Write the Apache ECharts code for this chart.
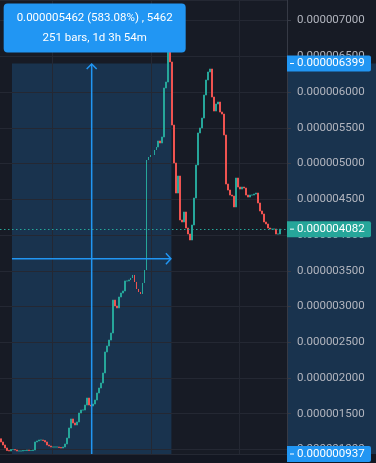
<!DOCTYPE html>
<html>
<head>
<meta charset="utf-8">
<script src="https://cdn.jsdelivr.net/npm/echarts@6/dist/echarts.min.js"></script>
<style>
  html, body { margin: 0; padding: 0; background: #171b25; }
  #chart { width: 376px; height: 463px; }
</style>
</head>
<body>
<div id="chart"></div>
<script>
// closing prices, in units of 0.000000001
const closes = [
  1105, 1063, 1021, 986, 979, 1000, 1000, 993, 979, 979, 979, 986, 986, 993, 986, 986, 993,
  1105, 1119, 1133, 1133, 1126, 1105, 1063, 1049, 1035, 1035, 1035, 1035, 1028, 1021, 1035,
  1077, 1161, 1301, 1427, 1371, 1343, 1385, 1510, 1552, 1552, 1622, 1720, 1622, 1608, 1636, 1692,
  1790, 1860, 1930, 2070, 2364, 2448, 2531, 2629,
  3090, 3007, 2980, 3133, 3189, 3217, 3357, 3357, 3371, 3399, 3441, 3343, 3245, 3203, 3175, 3329, 3510,
  5049, 5091, 5119, 5119, 5189, 5231, 5315, 5287, 5371, 6056, 6140, 6559, 6420, 5538, 5007,
  4587, 4825, 4210, 4182, 4322, 4098, 4014, 3930, 4140, 4517, 4979, 5427, 5497, 5636, 5958, 6168, 6280, 6322,
  5930, 5734, 5832, 5860, 5720, 5692, 5399, 4713, 4629, 4559, 4545, 4392, 4797, 4671, 4643, 4671, 4657,
  4559, 4531, 4559, 4559, 4573, 4587, 4448, 4336, 4294, 4182, 4154, 4098, 4084, 4084, 4084, 4014, 4014, 4082
]
const firstOpen = 1150
const lastPrice = 4082
const yMin = 937
const yMax = 7287
const yStep = 500
// bar indexes where the time grid lines fall
const timeGrid = [26, 76, 120]

// measuring tool: bar range and price range
const measure = { from: 6, to: 86, low: 937, high: 6399 }
const measureText = ['0.000005462 (583.08%) , 5462', '251 bars, 1d 3h 54m']
const priceTags = [
  { value: 6399, color: '#2196f3' },
  { value: 4082, color: '#26a69a' },
  { value: 937, color: '#2196f3' }
]

const UP = '#26a69a'
const DOWN = '#ef5350'
const BLUE = '#2196f3'
const FONT = '11.5px Roboto'

const fmt = v => (v / 1e9).toFixed(9)
const categories = Array.from({ length: closes.length + 3 }, (_, i) => String(i))
const candles = closes.map((c, i) => {
  const o = i ? closes[i - 1] : firstOpen
  return [o, c, Math.min(o, c), Math.max(o, c)]
})

function measureBox(params, api) {
  const bw = api.size([1, 0])[0]
  const p0 = api.coord([api.value(0), api.value(3)])
  const p1 = api.coord([api.value(1), api.value(2)])
  return { x0: p0[0] - bw / 2, x1: p1[0] - bw / 2, y0: p0[1], y1: p1[1] }
}

const chart = echarts.init(document.getElementById('chart'))
chart.setOption({
  animation: false,
  backgroundColor: '#171b25',
  grid: { left: 0, right: 89, top: 0, bottom: 9 },
  graphic: [{
    type: 'rect', z: 0, silent: true,
    shape: { x: 0, y: 454, width: 376, height: 9 },
    style: { fill: '#131722' }
  }],
  xAxis: {
    type: 'category',
    data: categories,
    boundaryGap: true,
    z: 2,
    axisLine: { show: false },
    axisTick: { show: false },
    axisLabel: { show: false },
    splitLine: {
      show: true,
      interval: i => timeGrid.includes(i),
      lineStyle: { color: '#242833' }
    }
  },
  yAxis: {
    type: 'value',
    position: 'right',
    min: yMin,
    max: yMax,
    minInterval: yStep,
    maxInterval: yStep,
    splitNumber: 13,
    z: 2,
    axisLine: { show: true, lineStyle: { color: '#363a45' } },
    axisTick: { show: true, length: 4, lineStyle: { color: '#363a45' } },
    axisLabel: {
      color: '#b2b5be',
      fontFamily: 'Roboto',
      fontSize: 11.5,
      margin: 10,
      showMinLabel: false,
      showMaxLabel: false,
      formatter: fmt
    },
    splitLine: { lineStyle: { color: '#242833' } }
  },
  series: [
    {
      type: 'custom',
      z: 1,
      clip: false,
      silent: true,
      data: [[measure.from, measure.to, measure.low, measure.high]],
      renderItem(params, api) {
        const b = measureBox(params, api)
        const right = params.coordSys.x + params.coordSys.width
        return {
          type: 'group',
          children: [
            { type: 'rect', shape: { x: b.x0, y: b.y0, width: b.x1 - b.x0, height: b.y1 - b.y0 }, style: { fill: 'rgba(33,150,243,0.2)' } },
            { type: 'rect', shape: { x: right, y: b.y0, width: api.getWidth() - right, height: b.y1 - b.y0 }, style: { fill: 'rgba(33,150,243,0.2)' } }
          ]
        }
      }
    },
    {
      type: 'candlestick',
      z: 3,
      barWidth: 1.4,
      data: candles,
      itemStyle: { color: UP, color0: DOWN, borderColor: UP, borderColor0: DOWN, borderWidth: 1 },
      markLine: {
        silent: true,
        symbol: ['none', 'none'],
        label: { show: false },
        lineStyle: { color: UP, type: [1.5, 2.5], width: 1 },
        data: [{ yAxis: lastPrice }]
      }
    },
    {
      type: 'custom',
      z: 4,
      clip: false,
      silent: true,
      data: [[measure.from, measure.to, measure.low, measure.high]],
      renderItem(params, api) {
        const b = measureBox(params, api)
        const right = params.coordSys.x + params.coordSys.width
        const mx = (b.x0 + b.x1) / 2
        const my = (b.y0 + b.y1) / 2
        const line = { stroke: BLUE, lineWidth: 1.5, fill: null }
        const kids = [
          { type: 'line', shape: { x1: mx, y1: b.y1, x2: mx, y2: b.y0 + 1 }, style: line },
          { type: 'polyline', shape: { points: [[mx - 5, b.y0 + 5.5], [mx, b.y0 + 0.5], [mx + 5, b.y0 + 5.5]] }, style: line },
          { type: 'line', shape: { x1: b.x0, y1: my, x2: b.x1 - 1, y2: my }, style: line },
          { type: 'polyline', shape: { points: [[b.x1 - 5.5, my - 5.5], [b.x1 - 0.5, my], [b.x1 - 5.5, my + 5.5]] }, style: line },
          { type: 'rect', shape: { x: mx - 88, y: b.y0 - 60, width: 182, height: 49, r: 4 }, style: { fill: BLUE } },
          { type: 'text', style: { x: mx + 3, y: b.y0 - 45.5, text: measureText[0], fill: '#fff', font: FONT, align: 'center', verticalAlign: 'middle' } },
          { type: 'text', style: { x: mx + 3, y: b.y0 - 25.5, text: measureText[1], fill: '#fff', font: FONT, align: 'center', verticalAlign: 'middle' } }
        ]
        priceTags.forEach(t => {
          const py = api.coord([0, t.value])[1]
          kids.push(
            { type: 'rect', shape: { x: right, y: py - 8, width: 84, height: 16, r: [0, 2, 2, 0] }, style: { fill: t.color } },
            { type: 'line', shape: { x1: right + 3, y1: py, x2: right + 7, y2: py }, style: { stroke: '#fff', lineWidth: 1 } },
            { type: 'text', style: { x: right + 10, y: py, text: fmt(t.value), fill: '#fff', font: FONT, align: 'left', verticalAlign: 'middle' } }
          )
        })
        return { type: 'group', children: kids }
      }
    }
  ]
})
</script>
</body>
</html>
